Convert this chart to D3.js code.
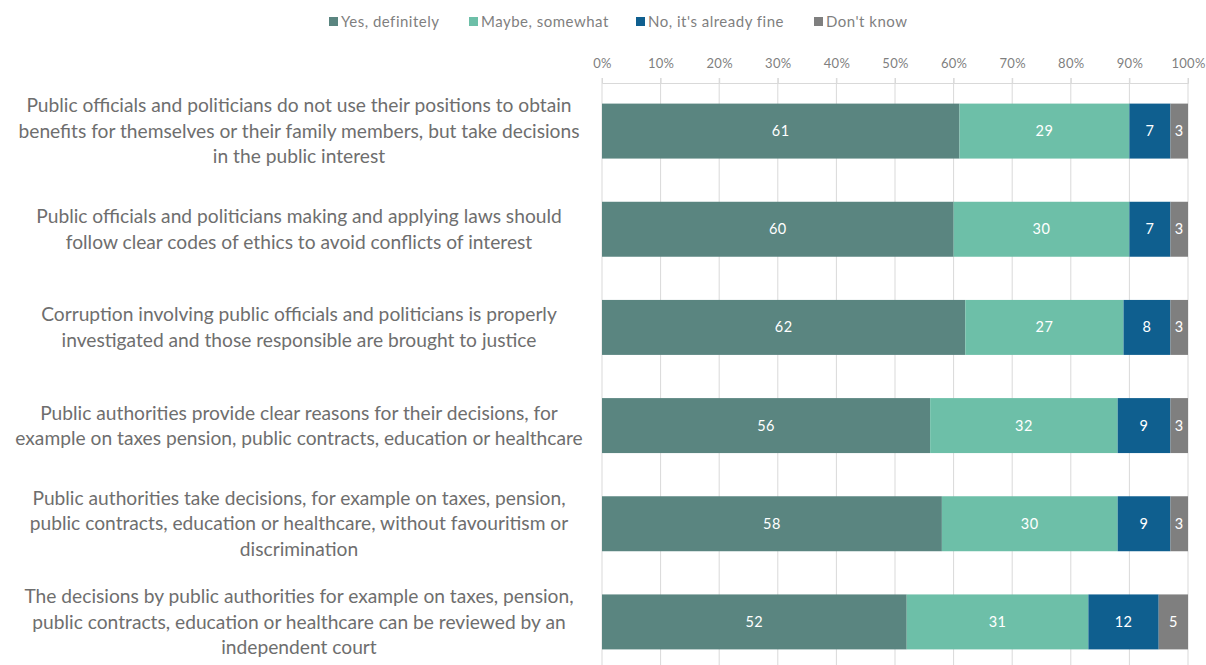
<!DOCTYPE html>
<html>
<head>
<meta charset="utf-8">
<script src="https://cdn.jsdelivr.net/npm/d3@7"></script>
<style>
  body { margin: 0; background: #fff; }
  svg { font-family: Lato, "Open Sans", sans-serif; }
</style>
</head>
<body>
<div id="chart"></div>
<script>
// categories (already wrapped the way the original shows them)
const categories = [
  ["Public officials and politicians do not use their positions to obtain",
   "benefits for themselves or their family members, but take decisions",
   "in the public interest"],
  ["Public officials and politicians making and applying laws should",
   "follow clear codes of ethics to avoid conflicts of interest"],
  ["Corruption involving public officials and politicians is properly",
   "investigated and those responsible are brought to justice"],
  ["Public authorities provide clear reasons for their decisions, for",
   "example on taxes pension, public contracts, education or healthcare"],
  ["Public authorities take decisions, for example on taxes, pension,",
   "public contracts, education or healthcare, without favouritism or",
   "discrimination"],
  ["The decisions by public authorities for example on taxes, pension,",
   "public contracts, education or healthcare can be reviewed by an",
   "independent court"]
];
const seriesNames = ["Yes, definitely", "Maybe, somewhat", "No, it's already fine", "Don't know"];
const yesDefinitely = [61, 60, 62, 56, 58, 52];
const maybeSomewhat = [29, 30, 27, 32, 30, 31];
const noAlreadyFine = [7, 7, 8, 9, 9, 12];
const dontKnow      = [3, 3, 3, 3, 3, 5];
const tickValues = [0, 10, 20, 30, 40, 50, 60, 70, 80, 90, 100];

const colors = ["#5a8580", "#6dbfa8", "#0f5f8f", "#7f7f7f"];

const width = 1206, height = 665;
const margin = {top: 83, left: 602, right: 18, bottom: 0};

const svg = d3.select("#chart").append("svg")
  .attr("width", width)
  .attr("height", height);

const x = d3.scaleLinear().domain([0, 100]).range([margin.left, width - margin.right]);
const y = d3.scaleBand()
  .domain(d3.range(categories.length))
  .range([82, 671])
  .paddingInner(0.44)
  .paddingOuter(0.22);

// gridlines
svg.append("g")
  .selectAll("line")
  .data(tickValues)
  .enter().append("line")
  .attr("x1", d => x(d)).attr("x2", d => x(d))
  .attr("y1", 78).attr("y2", height)
  .attr("stroke", "#d9d9d9").attr("stroke-width", 1);

// top axis
const axis = svg.append("g")
  .attr("transform", "translate(0," + margin.top + ")")
  .call(d3.axisTop(x).tickValues(tickValues).tickFormat(d => d + "%").tickSize(5).tickPadding(10));
axis.select(".domain").attr("stroke", "#d9d9d9");
axis.selectAll(".tick line").attr("stroke", "#d9d9d9");
axis.selectAll("text").attr("fill", "#7f7f7f").style("font-size", "13px")
  .style("font-family", "Lato, sans-serif").style("letter-spacing", "0.3px");

// stack
const rows = categories.map((c, i) => ({
  i: i,
  vals: [yesDefinitely[i], maybeSomewhat[i], noAlreadyFine[i], dontKnow[i]]
}));

const segs = [];
rows.forEach(r => {
  let acc = 0;
  r.vals.forEach((v, k) => {
    segs.push({i: r.i, k: k, x0: acc, x1: acc + v, v: v});
    acc += v;
  });
});

svg.append("g")
  .selectAll("rect")
  .data(segs)
  .enter().append("rect")
  .attr("x", d => x(d.x0))
  .attr("y", d => y(d.i))
  .attr("width", d => x(d.x1) - x(d.x0))
  .attr("height", y.bandwidth())
  .attr("fill", d => colors[d.k]);

svg.append("g")
  .selectAll("text")
  .data(segs)
  .enter().append("text")
  .attr("x", d => (x(d.x0) + x(d.x1)) / 2)
  .attr("y", d => y(d.i) + y.bandwidth() / 2)
  .attr("dy", "0.35em")
  .attr("text-anchor", "middle")
  .attr("fill", "#fff")
  .style("font-size", "14.5px")
  .style("letter-spacing", "0.5px")
  .text(d => d.v);

// category labels: block centred, right-aligned near the axis
const labelCenter = 299;
const lineH = 25.5;
const lab = svg.append("g")
  .selectAll("text")
  .data(categories)
  .enter().append("text")
  .attr("text-anchor", "middle")
  .attr("fill", "#6e6e6e")
  .style("font-size", "19.2px");
lab.each(function(lines, i) {
  const cy = y(i) + y.bandwidth() / 2;
  const start = cy - (lines.length - 1) * lineH / 2;
  d3.select(this).selectAll("tspan")
    .data(lines)
    .enter().append("tspan")
    .attr("x", labelCenter)
    .attr("y", (d, j) => start + j * lineH)
    .attr("dy", "0.35em")
    .text(d => d);
});

// legend
const legendX = [329, 469, 636, 814];
const legend = svg.append("g")
  .selectAll("g")
  .data(seriesNames)
  .enter().append("g")
  .attr("transform", (d, i) => "translate(" + legendX[i] + ",22)");
legend.append("rect")
  .attr("x", 0).attr("y", -5)
  .attr("width", 9).attr("height", 9)
  .attr("fill", (d, i) => colors[i]);
legend.append("text")
  .attr("x", 12).attr("y", 0)
  .attr("dy", "0.35em")
  .attr("fill", "#7f7f7f")
  .style("font-size", "15px")
  .style("letter-spacing", "0.5px")
  .text(d => d);
</script>
</body>
</html>
